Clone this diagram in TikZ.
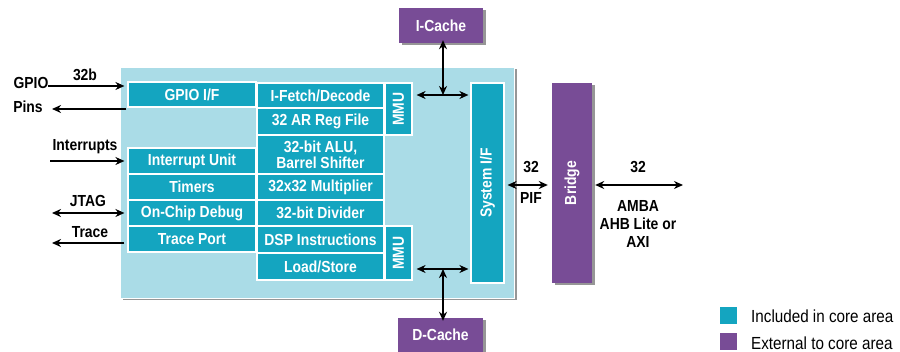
\documentclass[tikz,border=0pt]{standalone}
\usepackage{fontspec}
\setmainfont{Liberation Sans}[FakeStretch=0.87]
\usetikzlibrary{arrows.meta,shadows}
\definecolor{corebg}{RGB}{170,220,231}
\definecolor{cyanbox}{RGB}{20,165,192}
\definecolor{purp}{RGB}{120,76,150}
\definecolor{shade}{RGB}{150,150,150}
\begin{document}
\begin{tikzpicture}[x=1pt,y=-1pt,
  txt/.style={font=\fontsize{16}{16}\selectfont\bfseries},
  cb/.style={txt,fill=cyanbox,draw=white,line width=1.2pt,text=white,align=center,inner sep=0pt},
  pb/.style={txt,fill=purp,text=white,align=center,inner sep=0pt,
    drop shadow={shadow xshift=2.5pt,shadow yshift=-2.5pt,fill=shade,opacity=1}},
  lab/.style={txt,inner sep=0pt},
  leg/.style={font=\fontsize{17.5}{18}\selectfont,inner sep=0pt,anchor=west},
  tip/.tip={Stealth[length=9pt,width=8pt]},
  arr/.style={line width=2.1pt,-tip},
  darr/.style={line width=2.1pt,tip-tip}
]
\useasboundingbox (0,0) rectangle (900,352);
% core area
\node[fill=corebg,draw=white,line width=0.8pt,minimum width=394pt,minimum height=231pt,inner sep=0pt,
  drop shadow={shadow xshift=2.5pt,shadow yshift=-2.5pt,fill=shade,opacity=1}] (core) at (317,182.5) {};
% left column
\node[cb,minimum width=128pt,minimum height=25pt] (gpio) at (192,94.5) {GPIO I/F};
\node[cb,minimum width=128pt,minimum height=26pt] (intu) at (192,161) {Interrupt Unit};
\node[cb,minimum width=128pt,minimum height=26pt] (tim) at (192,187) {Timers};
\node[cb,minimum width=128pt,minimum height=26pt] (ocd) at (192,213) {On-Chip Debug};
\node[cb,minimum width=128pt,minimum height=26pt] (trp) at (192,239) {Trace Port};
% middle column
\node[cb,minimum width=127pt,minimum height=25pt] (ifd) at (320.5,95.5) {I-Fetch/Decode};
\node[cb,minimum width=127pt,minimum height=27pt] (arf) at (320.5,121.5) {32 AR Reg File};
\node[cb,minimum width=127pt,minimum height=39pt] (alu) at (320.5,154.5) {32-bit ALU,\\Barrel Shifter};
\node[cb,minimum width=127pt,minimum height=26pt] (mul) at (320.5,187) {32x32 Multiplier};
\node[cb,minimum width=127pt,minimum height=26pt] (div) at (320.5,213) {32-bit Divider};
\node[cb,minimum width=127pt,minimum height=27pt] (dsp) at (320.5,239.5) {DSP Instructions};
\node[cb,minimum width=127pt,minimum height=27pt] (lds) at (320.5,266.5) {Load/Store};
% MMUs
\node[cb,minimum width=27pt,minimum height=52pt] (mmu1) at (398.5,109) {\rotatebox{90}{MMU}};
\node[cb,minimum width=27pt,minimum height=54pt] (mmu2) at (398.5,253) {\rotatebox{90}{MMU}};
% System I/F
\node[cb,minimum width=33pt,minimum height=200pt] (sif) at (487.5,183) {\rotatebox{90}{System I/F}};
% external
\node[pb,minimum width=84pt,minimum height=35pt] (ic) at (441,25.5) {I-Cache};
\node[pb,minimum width=85pt,minimum height=34pt] (dc) at (440.5,335) {D-Cache};
\node[pb,minimum width=40pt,minimum height=200pt] (br) at (572,183) {\rotatebox{90}{Bridge}};
% cache connections
\coordinate (jI) at (443,95);
\coordinate (jD) at (443,269);
\draw[darr] ([xshift=4pt]mmu1.east|-jI) -- ([xshift=-2pt]sif.west|-jI);
\draw[darr] ([yshift=3pt]ic.south-|jI) -- (jI);
\draw[darr] ([xshift=4pt]mmu2.east|-jD) -- ([xshift=-2pt]sif.west|-jD);
\draw[darr] (jD) -- ([yshift=-3pt]dc.north-|jD);
% PIF and AMBA
\coordinate (pif) at (0,185);
\draw[darr] ([xshift=3pt]sif.east|-pif) -- ([xshift=-4pt]br.west|-pif);
\node[lab] (n32a) at (531,167) {32};
\node[lab] (pifl) at (531,198) {PIF};
\coordinate (amba) at (683,185);
\draw[darr] ([xshift=3pt]br.east|-pif) -- (amba);
\node[lab] (n32b) at (638,167) {32};
\node[lab,align=center] (ambal) at (638,224) {AMBA\\[2pt]AHB Lite or\\[2pt]AXI};
% left side signals
\node[lab] (gpiol) at (31,83) {GPIO};
\node[lab] (pinsl) at (28,107) {Pins};
\node[lab] (b32) at (85,75) {32b};
\coordinate (g0) at (48,86);
\coordinate (p0) at (52,109);
\draw[arr] (g0) -- ([xshift=-3pt]gpio.west|-g0);
\draw[arr] ([xshift=-1pt]gpio.west|-p0) -- (p0);
\node[lab] (intl) at (85,147) {Interrupts};
\coordinate (i0) at (50,161);
\draw[arr] (i0) -- ([xshift=-3pt]intu.west|-i0);
\node[lab] (jtagl) at (88,201) {JTAG};
\coordinate (j0) at (52,213);
\draw[darr] (j0) -- ([xshift=-3pt]ocd.west|-j0);
\node[lab] (trl) at (90,232) {Trace};
\coordinate (t0) at (52,243);
\draw[arr] ([xshift=-3pt]trp.west|-t0) -- (t0);
% legend
\node[fill=cyanbox,minimum width=17pt,minimum height=17pt,inner sep=0pt] (lc) at (728.5,316) {};
\node[fill=purp,minimum width=17pt,minimum height=17pt,inner sep=0pt] (lp) at (728.5,342) {};
\node[leg] (lct) at (751,316) {Included in core area};
\node[leg] (lpt) at (751,343) {External to core area};
\end{tikzpicture}
\end{document}
